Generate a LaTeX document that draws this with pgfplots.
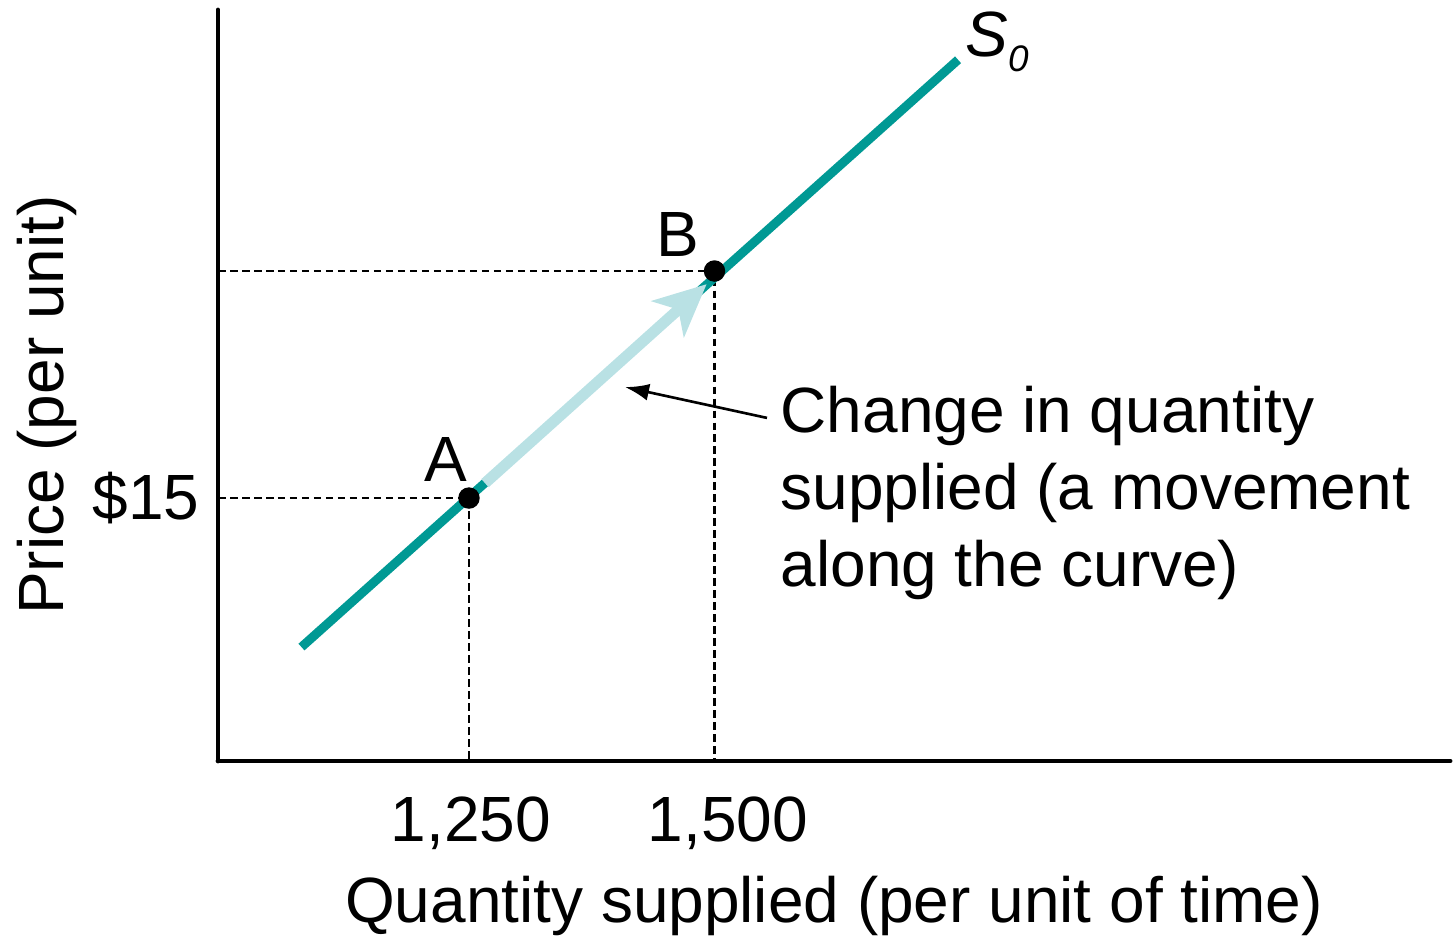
\documentclass[border=0pt]{standalone}
\usepackage{fontspec}
\setmainfont{Liberation Sans}
\usepackage{pgfplots}
\pgfplotsset{compat=1.18}
\usetikzlibrary{arrows.meta}
\definecolor{supplyteal}{RGB}{0,153,148}
\definecolor{movelight}{RGB}{185,225,228}

\begin{document}
\begin{tikzpicture}[font=\fontsize{18.2pt}{21.9pt}\selectfont]
\useasboundingbox (-2.18cm,-1.75cm) rectangle (12.38cm,7.61cm);
\begin{axis}[
    scale only axis,
    width=12.32cm, height=7.51cm,
    xmin=994.4, xmax=2249, ymin=0, ymax=42.84,
    axis x line=bottom, axis y line=left,
    axis line style={-, line width=1.4pt, line cap=round},
    xtick={1252,1513.7}, xticklabels={{1,250},{1,500}},
    ytick={15}, yticklabels={\$15},
    major tick length=0pt,
    xticklabel style={anchor=north, inner sep=0pt, yshift=-0.35cm},
    yticklabel style={anchor=east, inner sep=0pt, xshift=-0.18cm},
    xlabel={Quantity supplied (per unit of time)},
    ylabel={Price (per unit)},
    xlabel style={at={(axis description cs:0.5,-0.2144)}, anchor=base, inner sep=0pt},
    ylabel style={at={(axis description cs:-0.1258,0.474)}, anchor=base, inner sep=0pt},
    clip=false,
  ]
  % guide lines to A and B
  \addplot[black, line width=0.75pt, dash pattern=on 0.075cm off 0.045cm]
    coordinates {(994.4,15)(1250,15)(1250,0)};
  \addplot[black, line width=0.75pt, dash pattern=on 0.075cm off 0.045cm]
    coordinates {(994.4,27.95)(1500,27.95)(1500,0)};

  % supply curve
  \addplot[supplyteal, line width=0.09cm] coordinates {(1079.4,6.5)(1748,40)};

  % movement along the curve
  \addplot[movelight, line width=0.11cm,
           -{Stealth[length=0.52cm, width=0.48cm, inset=0.14cm]}]
    coordinates {(1266.3,15.85)(1492,27.2)};

  % pointer from the note
  \addplot[black, line width=0.75pt, -{Latex[length=0.24cm, width=0.17cm]}]
    coordinates {(1553.5,19.57)(1408.9,21.33)};

  \addplot[only marks, mark=*, mark size=2.85pt, black]
    coordinates {(1250,15)(1500,27.95)};

  \node[anchor=base, inner sep=0pt] at (axis cs:1226.6,15.92) {A};
  \node[anchor=base, inner sep=0pt] at (axis cs:1462.3,28.75) {B};
  \node[anchor=base west, inner sep=0pt] at (axis cs:1755.1,40.16)
    {\textit{S}\raisebox{-0.15cm}{\fontsize{10.5pt}{12pt}\selectfont\textit{0}}};
  \node[anchor=base west, align=left, inner sep=0pt] at (axis cs:1566.7,9.93)
    {Change in quantity\\supplied (a movement\\along the curve)};
\end{axis}
\end{tikzpicture}
\end{document}
